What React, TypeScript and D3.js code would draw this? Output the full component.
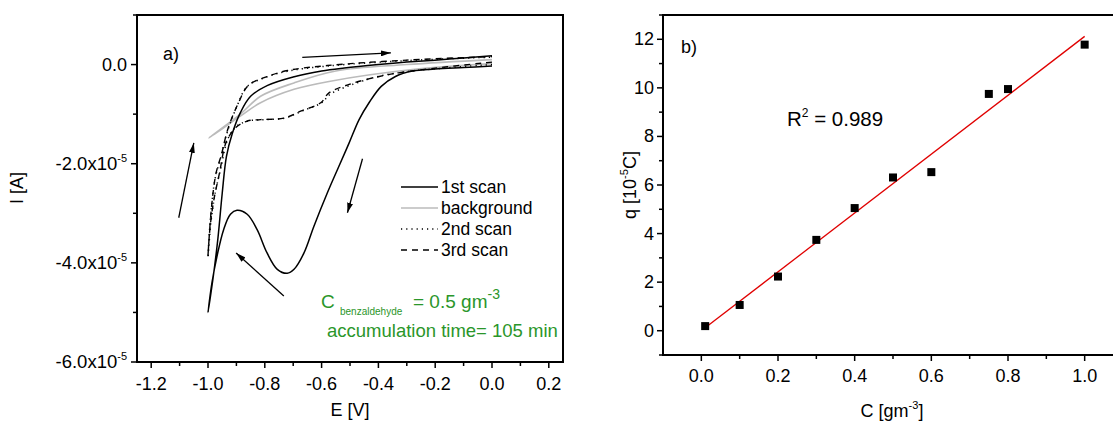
import React from 'react';
import * as d3 from 'd3';

// panel a) cyclic voltammograms, E in V, I in units of 1e-5 A
const scan1E = [0.0, -0.1, -0.2, -0.28, -0.34, -0.39, -0.433, -0.468, -0.503, -0.539, -0.58, -0.627, -0.662, -0.697, -0.721, -0.756, -0.792, -0.827, -0.862, -0.898, -0.921, -0.945, -0.968, -0.986, -1.0,
  -0.982, -0.965, -0.95, -0.935, -0.915, -0.886, -0.85, -0.79, -0.7, -0.6, -0.52, -0.4, -0.3, -0.15, 0.0];
const scan1I = [-0.03, -0.06, -0.09, -0.13, -0.24, -0.44, -0.77, -1.11, -1.58, -2.05, -2.59, -3.26, -3.8, -4.13, -4.21, -4.13, -3.8, -3.33, -3.02, -2.94, -3.02, -3.33, -3.86, -4.4, -5.0,
  -4.3, -3.5, -2.6, -1.85, -1.4, -0.97, -0.64, -0.42, -0.25, -0.13, -0.07, 0.0, 0.05, 0.11, 0.18];

const backE = [0.0, -0.28, -0.574, -0.697, -0.815, -0.886, -0.997, -0.886, -0.815, -0.697, -0.55, -0.3, 0.0];
const backI = [0.02, -0.1, -0.34, -0.5, -0.77, -1.04, -1.48, -1.0, -0.64, -0.37, -0.13, 0.0, 0.1];

const scan2E = [0.0, -0.29, -0.4, -0.5, -0.57, -0.6, -0.67, -0.73, -0.8, -0.86, -0.898, -0.93, -0.955, -0.975, -0.99, -1.0,
  -0.99, -0.975, -0.956, -0.933, -0.898, -0.862, -0.803, -0.721, -0.58, -0.3, 0.0];
const scan2I = [0.0, -0.135, -0.24, -0.42, -0.6, -0.77, -0.94, -1.08, -1.11, -1.14, -1.24, -1.5, -2.1, -2.6, -3.2, -3.9,
  -3.0, -2.3, -1.9, -1.38, -0.84, -0.44, -0.27, -0.135, -0.03, 0.08, 0.15];

const scan3E = [0.0, -0.29, -0.397, -0.503, -0.574, -0.603, -0.674, -0.733, -0.815, -0.862, -0.9, -0.935, -0.96, -0.98, -0.993, -1.0,
  -0.988, -0.972, -0.952, -0.93, -0.895, -0.858, -0.8, -0.72, -0.58, -0.3, 0.0];
const scan3I = [0.05, -0.135, -0.24, -0.4, -0.57, -0.77, -0.94, -1.08, -1.11, -1.14, -1.26, -1.55, -2.2, -2.75, -3.3, -3.85,
  -2.9, -2.2, -1.8, -1.3, -0.8, -0.42, -0.26, -0.12, -0.02, 0.09, 0.16];

const legendLabels = ['1st scan', 'background', '2nd scan', '3rd scan'];

const xTicksA = [-1.2, -1.0, -0.8, -0.6, -0.4, -0.2, 0.0, 0.2];
const xMinorA = [-1.1, -0.9, -0.7, -0.5, -0.3, -0.1, 0.1];
const yTicksA = [0, -2, -4, -6];
const yMinorA = [1, -1, -3, -5];

// arrows [E0, I0, E1, I1]
const arrowsA = [
  [-0.668, 0.147, -0.356, 0.236],
  [-0.456, -1.9, -0.509, -2.99],
  [-0.733, -4.67, -0.901, -3.8],
  [-1.103, -3.09, -1.05, -1.58],
];

// panel b) charge vs concentration
const conc = [0.01, 0.1, 0.2, 0.3, 0.4, 0.5, 0.6, 0.75, 0.8, 1.0];
const charge = [0.19, 1.06, 2.23, 3.74, 5.05, 6.31, 6.53, 9.75, 9.95, 11.78];
const fitC = [0.01, 1.0];
const fitQ = [0.12, 12.12];

const xTicksB = [0.0, 0.2, 0.4, 0.6, 0.8, 1.0];
const xMinorB = [0.1, 0.3, 0.5, 0.7, 0.9];
const yTicksB = [0, 2, 4, 6, 8, 10, 12];
const yMinorB = [-1, 1, 3, 5, 7, 9, 11, 13];

const FONT = "Arial, 'Liberation Sans', sans-serif";
const GREEN = '#2a962a';

export default function App() {
  const xA = d3.scaleLinear().domain([-1.25, 0.25]).range([137, 563]);
  const yA = d3.scaleLinear().domain([-6, 1]).range([362, 15]);
  const xB = d3.scaleLinear().domain([-0.1, 1.1]).range([663, 1123]);
  const yB = d3.scaleLinear().domain([-1, 13]).range([355, 15]);

  const lineA = (es: number[], is: number[]) =>
    d3.line<number>().x(i => xA(es[i])).y(i => yA(is[i])).curve(d3.curveCatmullRom)(d3.range(es.length)) || '';

  const fitPath = d3.line<number>().x(i => xB(fitC[i])).y(i => yB(fitQ[i]))(d3.range(fitC.length)) || '';

  const legendStyles = [
    { stroke: '#000', dash: null },
    { stroke: '#bbb', dash: null },
    { stroke: '#000', dash: '1.2,4' },
    { stroke: '#000', dash: '6,5' },
  ];

  const fmtA = (v: number) => v === 0 ? '0.0' : v.toFixed(1);

  return (
    <svg width={1113} height={423} style={{ position: 'absolute', left: 0, top: 0, background: '#fff' }} fontFamily={FONT}>
      <defs>
        <marker id="ah" viewBox="0 0 10 6" refX="10" refY="3" markerWidth="10" markerHeight="6" markerUnits="userSpaceOnUse" orient="auto">
          <path d="M0,0 L10,3 L0,6 Z" fill="#000" />
        </marker>
        <clipPath id="clipB"><rect x={663} y={15} width={460} height={340} /></clipPath>
      </defs>

      {/* ---- panel a ---- */}
      <rect x={137} y={15} width={426} height={347} fill="none" stroke="#000" strokeWidth={2} />
      {xTicksA.map(t => (
        <g key={'xa' + t}>
          <line x1={xA(t)} x2={xA(t)} y1={362} y2={368} stroke="#000" strokeWidth={1.5} />
          <text x={xA(t)} y={390} fontSize={18} textAnchor="middle">{fmtA(t)}</text>
        </g>
      ))}
      {xMinorA.map(t => <line key={'xma' + t} x1={xA(t)} x2={xA(t)} y1={362} y2={366} stroke="#000" strokeWidth={1.5} />)}
      {yTicksA.map(t => (
        <g key={'ya' + t}>
          <line x1={131} x2={137} y1={yA(t)} y2={yA(t)} stroke="#000" strokeWidth={1.5} />
          {t === 0 ? (
            <text x={127} y={yA(t) + 6} fontSize={18} textAnchor="end">0.0</text>
          ) : (
            <text x={127} y={yA(t) + 6} fontSize={18.5} textAnchor="end">
              {t.toFixed(1)}x10<tspan fontSize={11} dy={-8}>-5</tspan>
            </text>
          )}
        </g>
      ))}
      {yMinorA.map(t => <line key={'yma' + t} x1={133} x2={137} y1={yA(t)} y2={yA(t)} stroke="#000" strokeWidth={1.5} />)}
      <text x={350} y={416} fontSize={18} textAnchor="middle">E [V]</text>
      <text transform="translate(23,188) rotate(-90)" fontSize={18} textAnchor="middle">I [A]</text>
      <text x={163} y={60} fontSize={18}>a)</text>

      <path d={lineA(backE, backI)} fill="none" stroke="#bbb" strokeWidth={1.6} />
      <path d={lineA(scan2E, scan2I)} fill="none" stroke="#000" strokeWidth={1.5} strokeDasharray="1.2,4" />
      <path d={lineA(scan3E, scan3I)} fill="none" stroke="#000" strokeWidth={1.4} strokeDasharray="6,5" />
      <path d={lineA(scan1E, scan1I)} fill="none" stroke="#000" strokeWidth={1.5} />

      {arrowsA.map((a, i) => (
        <line key={'ar' + i} x1={xA(a[0])} y1={yA(a[1])} x2={xA(a[2])} y2={yA(a[3])} stroke="#000" strokeWidth={1.3} markerEnd="url(#ah)" />
      ))}

      {legendLabels.map((lab, i) => {
        const y = 187 + i * 21;
        const st = legendStyles[i];
        return (
          <g key={lab}>
            <line x1={401} x2={438} y1={y} y2={y} stroke={st.stroke} strokeWidth={1.5} strokeDasharray={st.dash || undefined} />
            <text x={441} y={y + 6} fontSize={17.5}>{lab}</text>
          </g>
        );
      })}

      <text x={321} y={308} fontSize={19} fill={GREEN}>C</text>
      <text x={340} y={315} fontSize={10} fill={GREEN}>benzaldehyde</text>
      <text x={413} y={308} fontSize={19} fill={GREEN}>= 0.5 gm<tspan fontSize={14} dy={-9}>-3</tspan></text>
      <text x={327} y={337} fontSize={18.5} fill={GREEN}>accumulation time= 105 min</text>

      {/* ---- panel b ---- */}
      <rect x={663} y={15} width={460} height={340} fill="none" stroke="#000" strokeWidth={2} />
      {xTicksB.map(t => (
        <g key={'xb' + t}>
          <line x1={xB(t)} x2={xB(t)} y1={355} y2={361} stroke="#000" strokeWidth={1.5} />
          <text x={xB(t)} y={382} fontSize={18} textAnchor="middle">{t.toFixed(1)}</text>
        </g>
      ))}
      {xMinorB.map(t => <line key={'xmb' + t} x1={xB(t)} x2={xB(t)} y1={355} y2={359} stroke="#000" strokeWidth={1.5} />)}
      {yTicksB.map(t => (
        <g key={'yb' + t}>
          <line x1={657} x2={663} y1={yB(t)} y2={yB(t)} stroke="#000" strokeWidth={1.5} />
          <text x={654} y={yB(t) + 6} fontSize={18} textAnchor="end">{t}</text>
        </g>
      ))}
      {yMinorB.map(t => <line key={'ymb' + t} x1={659} x2={663} y1={yB(t)} y2={yB(t)} stroke="#000" strokeWidth={1.5} />)}
      <text x={892} y={417} fontSize={18} textAnchor="middle">C [gm<tspan fontSize={11} dy={-8}>-3</tspan><tspan dy={8}>]</tspan></text>
      <text transform="translate(636,185) rotate(-90)" fontSize={18} textAnchor="middle">q [10<tspan fontSize={11} dy={-8}>-5</tspan><tspan dy={8}>C]</tspan></text>
      <text x={681} y={53} fontSize={18}>b)</text>
      <text x={787} y={126} fontSize={20.5}>R<tspan fontSize={12} dy={-9}>2</tspan><tspan dy={9}> = 0.989</tspan></text>

      <g clipPath="url(#clipB)">
        <path d={fitPath} fill="none" stroke="#e00000" strokeWidth={1.3} />
        {conc.map((c, i) => (
          <rect key={'p' + i} x={xB(c) - 4} y={yB(charge[i]) - 4} width={8} height={8} fill="#000" />
        ))}
      </g>
    </svg>
  );
}
